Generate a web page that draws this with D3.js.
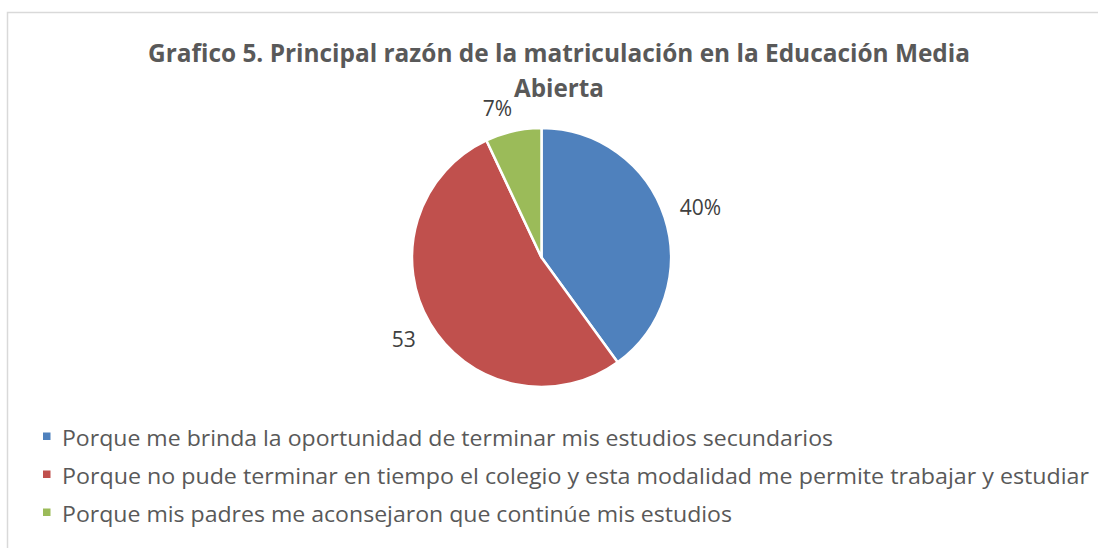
<!DOCTYPE html>
<html>
<head>
<meta charset="utf-8">
<script src="https://cdn.jsdelivr.net/npm/d3@7"></script>
<style>
  body { margin: 0; background: #fff; }
  svg { display: block; }
</style>
</head>
<body>
<svg id="chart"></svg>
<script>
// data
const categories = [
  'Porque me brinda la oportunidad de terminar mis estudios secundarios',
  'Porque no pude terminar en tiempo el colegio y esta modalidad me permite trabajar y estudiar',
  'Porque mis padres me aconsejaron que continúe mis estudios'
]
const values = [40, 53, 7]
const valueLabels = ['40%', '53', '7%']
const colors = ['#4F81BD', '#C0504D', '#9BBB59']
const titleLines = [
  'Grafico 5. Principal razón de la matriculación en la Educación Media',
  'Abierta'
]

const width = 1098
const height = 548

const svg = d3.select('#chart')
  .attr('width', width)
  .attr('height', height)

// chart area border (runs off right and bottom)
svg.append('path')
  .attr('d', `M7.5,${height + 5} L7.5,12.5 L${width + 5},12.5`)
  .attr('fill', 'none')
  .attr('stroke', '#d9d9d9')
  .attr('stroke-width', 1.5)

// title
svg.append('g')
  .selectAll('text')
  .data(titleLines)
  .join('text')
  .attr('x', 559)
  .attr('y', (d, i) => 62 + i * 35)
  .attr('text-anchor', 'middle')
  .attr('font-family', 'Open Sans, sans-serif')
  .attr('font-weight', 'bold')
  .attr('font-size', 25)
  .attr('fill', '#595959')
  .attr('textLength', (d, i) => i === 0 ? 822 : 90)
  .attr('lengthAdjust', 'spacingAndGlyphs')
  .text(d => d)

// pie
const cx = 541.5, cy = 257.5, r = 129.5
const pie = d3.pie().sort(null).value(d => d)
const arcs = pie(values)
const arc = d3.arc().innerRadius(0).outerRadius(r)
// best-fit label placement like the source: distance and nudge per slice
const labelRadius = [167, 160, 156]
const labelNudge = [[0, 2], [0, 0], [-10, 3]]

const g = svg.append('g')
  .attr('transform', `translate(${cx},${cy})`)

g.selectAll('path')
  .data(arcs)
  .join('path')
  .attr('d', arc)
  .attr('fill', (d, i) => colors[i])
  .attr('stroke', '#fff')
  .attr('stroke-width', 2.5)
  .attr('stroke-linejoin', 'round')

g.selectAll('text')
  .data(arcs)
  .join('text')
  .attr('transform', (d, i) => {
    const [x, y] = d3.arc().innerRadius(labelRadius[i]).outerRadius(labelRadius[i]).centroid(d)
    return `translate(${x + labelNudge[i][0]},${y + labelNudge[i][1]})`
  })
  .attr('text-anchor', 'middle')
  .attr('dy', '0.36em')
  .attr('font-family', 'Open Sans, sans-serif')
  .attr('font-size', 21)
  .attr('fill', '#404040')
  .text((d, i) => valueLabels[i])

// legend
const legendLengths = [771, 1027, 670]
const legend = svg.append('g')
  .selectAll('g')
  .data(categories)
  .join('g')
  .attr('transform', (d, i) => `translate(43,${446 + i * 38})`)

legend.append('rect')
  .attr('x', 0)
  .attr('y', -13.5)
  .attr('width', 7.5)
  .attr('height', 7.5)
  .attr('fill', (d, i) => colors[i])

legend.append('text')
  .attr('x', 19)
  .attr('font-family', 'Open Sans, sans-serif')
  .attr('font-size', 22)
  .attr('fill', '#595959')
  .attr('textLength', (d, i) => legendLengths[i])
  .attr('lengthAdjust', 'spacingAndGlyphs')
  .text(d => d)
</script>
</body>
</html>
